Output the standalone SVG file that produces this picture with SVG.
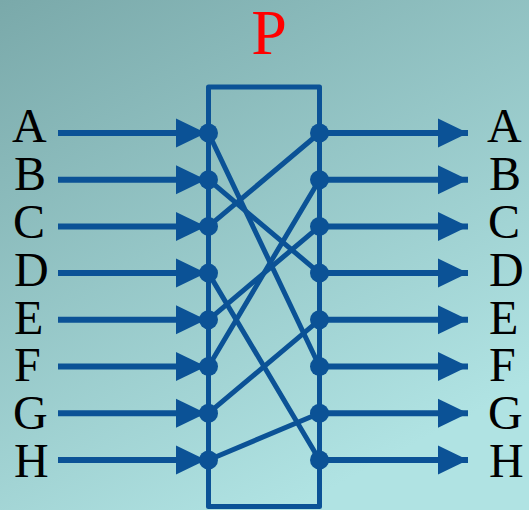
<svg xmlns="http://www.w3.org/2000/svg" width="529" height="510" viewBox="0 0 529 510">
<defs>
<linearGradient id="bg" x1="0" y1="0" x2="0.55" y2="1">
<stop offset="0" stop-color="#7aa9aa"/>
<stop offset="1" stop-color="#b0e3e3"/>
</linearGradient>
<marker id="ah" markerUnits="userSpaceOnUse" markerWidth="30" markerHeight="30" viewBox="0 0 30 30" refX="30" refY="15" orient="auto">
<path d="M0,0.5 L30,15 L0,29.5 Z" fill="#0b5296"/>
</marker>
<style>
.lbl{font-size:48px;fill:#000}
.ttl{font-size:64px;fill:#ff0000}
.arr{stroke:#0b5296;stroke-width:6;fill:none}
.wire{stroke:#0b5296;stroke-width:5;fill:none;stroke-linecap:round}
.box{stroke:#0b5296;stroke-width:5;fill:none;stroke-linejoin:round}
.dot{fill:#0b5296}
</style>
</defs>
<rect width="529" height="510" fill="url(#bg)"/>
<text class="ttl" font-family="'Liberation Serif', 'Times New Roman', Times, serif" x="269" y="54" text-anchor="middle">P</text>
<g id="box"><rect class="box" x="208.5" y="87" width="111" height="419.5"/></g>
<g id="inputs" font-family="'Liberation Serif', 'Times New Roman', Times, serif">
<text class="lbl" x="12" y="142">A</text>
<text class="lbl" x="14" y="190">B</text>
<text class="lbl" x="13" y="238">C</text>
<text class="lbl" x="14" y="286">D</text>
<text class="lbl" x="14" y="334">E</text>
<text class="lbl" x="14" y="381">F</text>
<text class="lbl" x="13" y="429">G</text>
<text class="lbl" x="14" y="477">H</text>
</g>
<g id="outputs" font-family="'Liberation Serif', 'Times New Roman', Times, serif">
<text class="lbl" x="487" y="142">A</text>
<text class="lbl" x="489" y="190">B</text>
<text class="lbl" x="488" y="238">C</text>
<text class="lbl" x="489" y="286">D</text>
<text class="lbl" x="489" y="334">E</text>
<text class="lbl" x="489" y="381">F</text>
<text class="lbl" x="488" y="429">G</text>
<text class="lbl" x="489" y="477">H</text>
</g>
<g id="connectors">
<g class="arr" marker-end="url(#ah)">
<line x1="58" y1="133" x2="206" y2="133"/>
<line x1="58" y1="179.7" x2="206" y2="179.7"/>
<line x1="58" y1="226.4" x2="206" y2="226.4"/>
<line x1="58" y1="273.1" x2="206" y2="273.1"/>
<line x1="58" y1="319.8" x2="206" y2="319.8"/>
<line x1="58" y1="366.5" x2="206" y2="366.5"/>
<line x1="58" y1="413.2" x2="206" y2="413.2"/>
<line x1="58" y1="460" x2="206" y2="460"/>
<line x1="320" y1="133" x2="468" y2="133"/>
<line x1="320" y1="179.7" x2="468" y2="179.7"/>
<line x1="320" y1="226.4" x2="468" y2="226.4"/>
<line x1="320" y1="273.1" x2="468" y2="273.1"/>
<line x1="320" y1="319.8" x2="468" y2="319.8"/>
<line x1="320" y1="366.5" x2="468" y2="366.5"/>
<line x1="320" y1="413.2" x2="468" y2="413.2"/>
<line x1="320" y1="460" x2="468" y2="460"/>
</g>
<g class="wire">
<line x1="208.5" y1="133" x2="319.5" y2="366.5"/>
<line x1="208.5" y1="179.7" x2="319.5" y2="273.1"/>
<line x1="208.5" y1="226.4" x2="319.5" y2="133"/>
<line x1="208.5" y1="273.1" x2="319.5" y2="460"/>
<line x1="208.5" y1="319.8" x2="319.5" y2="226.4"/>
<line x1="208.5" y1="366.5" x2="319.5" y2="179.7"/>
<line x1="208.5" y1="413.2" x2="319.5" y2="319.8"/>
<line x1="208.5" y1="460" x2="319.5" y2="413.2"/>
</g>
<g class="dot">
<circle cx="208.5" cy="133" r="9.5"/>
<circle cx="208.5" cy="179.7" r="9.5"/>
<circle cx="208.5" cy="226.4" r="9.5"/>
<circle cx="208.5" cy="273.1" r="9.5"/>
<circle cx="208.5" cy="319.8" r="9.5"/>
<circle cx="208.5" cy="366.5" r="9.5"/>
<circle cx="208.5" cy="413.2" r="9.5"/>
<circle cx="208.5" cy="460" r="9.5"/>
<circle cx="319.5" cy="133" r="9.5"/>
<circle cx="319.5" cy="179.7" r="9.5"/>
<circle cx="319.5" cy="226.4" r="9.5"/>
<circle cx="319.5" cy="273.1" r="9.5"/>
<circle cx="319.5" cy="319.8" r="9.5"/>
<circle cx="319.5" cy="366.5" r="9.5"/>
<circle cx="319.5" cy="413.2" r="9.5"/>
<circle cx="319.5" cy="460" r="9.5"/>
</g>
</g>
</svg>
